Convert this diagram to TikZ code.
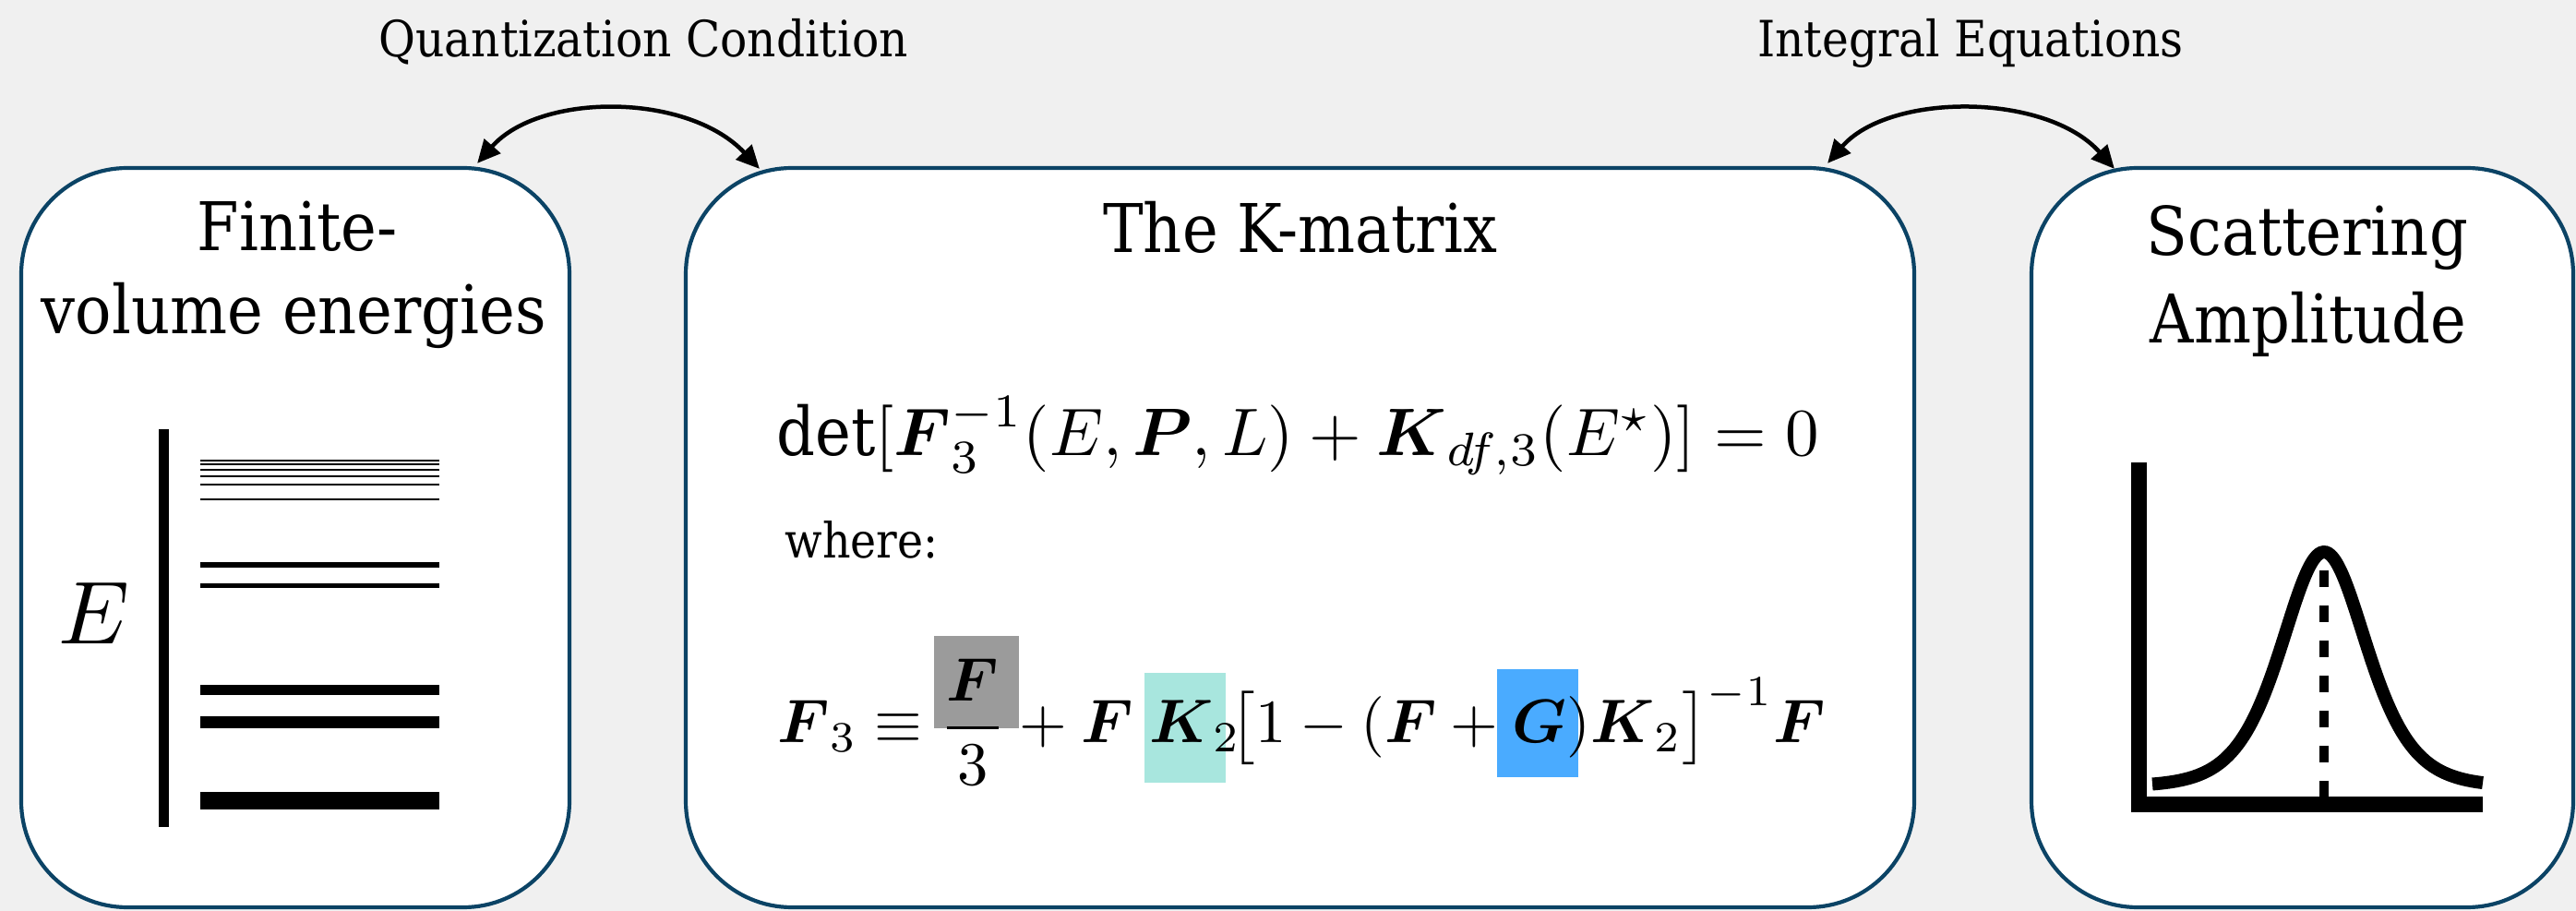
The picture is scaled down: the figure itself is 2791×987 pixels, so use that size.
\documentclass[tikz,border=0pt]{standalone}
\usepackage{amsmath,amssymb}
\usepackage{graphicx}
\usepackage{fontspec}
\setmainfont{DejaVu Serif Condensed}
\usetikzlibrary{arrows.meta,calc}
\definecolor{bgc}{RGB}{240,240,240}
\definecolor{boxline}{RGB}{11,67,101}
\definecolor{hlgray}{RGB}{155,155,155}
\definecolor{hlteal}{RGB}{168,230,222}
\definecolor{hlblue}{RGB}{74,171,255}
\newcommand{\hlrect}[5]{\smash{\rlap{\kern#2\textcolor{#1}{\rule[-#5]{#3}{\dimexpr#4+#5\relax}}}}}
\newcommand{\vF}{\boldsymbol{F}}
\newcommand{\vK}{\boldsymbol{K}}
\newcommand{\vG}{\boldsymbol{G}}
\newcommand{\vP}{\boldsymbol{P}}
\begin{document}
\begin{tikzpicture}[x=0.1mm,y=-0.1mm,
  panel/.style={draw=boxline, fill=white, line width=0.42mm, rounded corners=11.5mm, inner sep=0pt},
  toplabel/.style={inner sep=0pt, font=\fontsize{15.4}{18}\selectfont},
  ptitle/.style={inner sep=0pt, font=\fontsize{20.7}{24}\selectfont},
  smalltext/.style={inner sep=0pt, font=\fontsize{15}{18}\selectfont},
  eqn/.style={inner sep=0pt},
  link/.style={{Triangle[length=2.5mm,width=2.3mm]}-{Triangle[length=2.5mm,width=2.3mm]}, line width=0.45mm},
  level/.style={fill=black},
  axisline/.style={line width=1.7mm},
  peak/.style={line width=1.4mm},
  peakline/.style={line width=1mm, dash pattern=on 1.8mm off 2mm}]
\fill[bgc] (0,0) rectangle (2791,987);
\useasboundingbox (0,0) rectangle (2791,987);

% panels
\node[panel, minimum width=59.4mm, minimum height=80.1mm] (fv) at (320,582.5) {};
\node[panel, minimum width=133.1mm, minimum height=80.1mm] (km) at (1408.5,582.5) {};
\node[panel, minimum width=58.7mm, minimum height=80.1mm] (sa) at (2494.5,582.5) {};

% top labels
\node[toplabel, anchor=base] (qc) at (697,62) {Quantization Condition};
\node[toplabel, anchor=base] (ie) at (2135,62) {Integral Equations};

% arrows
\coordinate (qa) at ($(fv.north east)+(-102,-3)$);
\coordinate (qb) at ($(km.north west)+(82,3)$);
\coordinate (ia) at ($(km.north east)+(-96,-3)$);
\coordinate (ib) at ($(sa.north west)+(92,3)$);
\draw[link] (qa) .. controls (585,100) and (745,100) .. (qb);
\draw[link] (ia) .. controls (2047,100) and (2217,100) .. (ib);

% panel titles
\node[ptitle, anchor=base] (fvt1) at (322,272) {Finite-};
\node[ptitle, anchor=base] (fvt2) at (318.5,362) {volume energies};
\node[ptitle, anchor=base] (kmt) at (1409,274) {The K-matrix};
\node[ptitle, anchor=base] (sat1) at (2500,277) {Scattering};
\node[ptitle, anchor=base] (sat2) at (2501,372) {Amplitude};

% energy levels
\node[inner sep=0pt, anchor=base] (elab) at (102,698) {\scalebox{2.75}{$E$}};
\fill[level] (172,465) rectangle (183,896);
\foreach \yc/\th in {498.7/2, 502.7/2, 509.3/2.3, 515.7/2.3, 525/2, 541/2, 612/5.3, 634.5/5.3, 747.7/11, 782.7/13.3, 867.8/19}
  \fill[level] (216.5,\yc-\th/2) rectangle (475.5,\yc+\th/2);

% equations
\node[eqn, anchor=base west] (eqa) at (841,494) {\resizebox{112.9mm}{!}{$\det[\vF_3^{-1}(E,\vP,L)+\vK_{df,3}(E^{\star})]=0$}};
\node[smalltext, anchor=base west] (wh) at (850,605) {where:};
\node[eqn, anchor=base west] (eqb) at (842,805) {\resizebox{113.5mm}{!}{$\displaystyle \vF_3\equiv\frac{\hlrect{hlgray}{-2pt}{13.7pt}{10.7pt}{4.3pt}\vF}{3}+\vF\kern2.6pt\hlrect{hlteal}{-0.8pt}{13.3pt}{11.4pt}{6.4pt}\vK_2\kern-1.8pt\bigl[1-(\vF+\hlrect{hlblue}{-2.5pt}{13.3pt}{12pt}{5.5pt}\vG)\vK_2\bigr]^{-1}\vF$}};

% scattering plot
\draw[axisline] (2317.5,501) -- (2317.5,872) -- (2690,872);
\draw[peak] plot[domain=2332:2690, samples=140, smooth] (\x, {852-254/(cosh((\x-2518)/62))^2});
\draw[peakline] (2518,618) -- (2518,864);
\end{tikzpicture}
\end{document}
